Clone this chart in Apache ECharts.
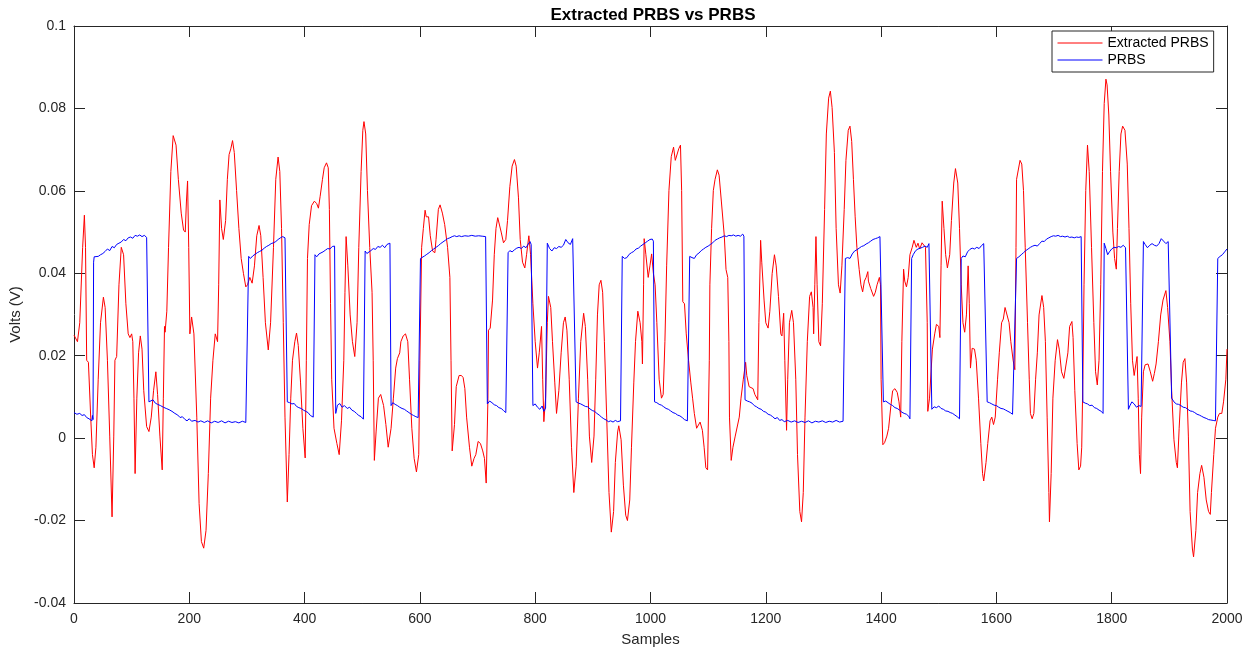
<!DOCTYPE html>
<html>
<head>
<meta charset="utf-8">
<script src="https://cdn.jsdelivr.net/npm/echarts@6/dist/echarts.min.js"></script>
<style>
html,body{margin:0;padding:0;background:#fff;}
#chart{width:1256px;height:654px;}
</style>
</head>
<body>
<div id="chart"></div>
<script>
const chartTitle = 'Extracted PRBS vs PRBS';
const seriesNames = ['Extracted PRBS', 'PRBS'];
const xAxisName = 'Samples';
const yAxisName = 'Volts (V)';

// [sample, volts]
const extractedPrbs = [[0,0.0250],[1,0.0248],[6,0.0234],[10,0.0280],[15,0.0463],[18,0.0541],[20,0.0463],[22,0.0189],[25,0.0184],[29,0.0051],[32,-0.0040],[35,-0.0072],[38,-0.0022],[42,0.0143],[46,0.0280],[51,0.0342],[54,0.0317],[58,0.0189],[62,0.0005],[66,-0.0191],[69,0.0005],[71,0.0189],[74,0.0198],[78,0.0372],[82,0.0463],[86,0.0445],[90,0.0326],[94,0.0253],[97,0.0244],[100,0.0253],[102,0.0234],[104,0.0097],[106,-0.0086],[109,0.0097],[112,0.0207],[115,0.0248],[118,0.0216],[121,0.0115],[126,0.0028],[130,0.0016],[134,0.0051],[138,0.0115],[142,0.0161],[145,0.0106],[149,0.0005],[153,-0.0077],[155,0.0097],[157,0.0271],[158,0.0257],[161,0.0308],[164,0.0463],[168,0.0647],[172,0.0734],[177,0.0711],[181,0.0628],[186,0.0546],[190,0.0505],[193,0.0500],[195,0.0573],[197,0.0624],[199,0.0463],[201,0.0253],[204,0.0294],[208,0.0253],[213,0.0051],[217,-0.0159],[221,-0.0251],[225,-0.0267],[229,-0.0224],[233,-0.0086],[237,0.0097],[241,0.0189],[245,0.0253],[248,0.0257],[249,0.0234],[251,0.0372],[253,0.0578],[256,0.0509],[259,0.0482],[263,0.0528],[266,0.0628],[269,0.0688],[272,0.0702],[275,0.0722],[278,0.0693],[282,0.0601],[286,0.0509],[290,0.0436],[294,0.0399],[298,0.0367],[301,0.0372],[305,0.0390],[309,0.0376],[313,0.0418],[317,0.0491],[321,0.0516],[324,0.0491],[328,0.0390],[332,0.0280],[337,0.0214],[341,0.0280],[346,0.0463],[350,0.0628],[354,0.0682],[357,0.0647],[360,0.0509],[363,0.0280],[366,0.0051],[370,-0.0155],[373,-0.0040],[376,0.0097],[379,0.0189],[383,0.0234],[386,0.0255],[389,0.0225],[393,0.0134],[397,0.0024],[401,-0.0048],[403,0.0189],[405,0.0436],[408,0.0518],[412,0.0564],[417,0.0575],[421,0.0569],[424,0.0558],[427,0.0587],[431,0.0628],[434,0.0656],[438,0.0668],[441,0.0656],[443,0.0555],[445,0.0326],[447,0.0143],[451,0.0024],[456,-0.0013],[460,-0.0040],[464,0.0042],[468,0.0189],[470,0.0354],[472,0.0489],[475,0.0418],[479,0.0299],[483,0.0234],[487,0.0198],[491,0.0280],[494,0.0463],[498,0.0647],[501,0.0747],[503,0.0768],[506,0.0738],[509,0.0601],[513,0.0463],[517,0.0354],[519,0.0189],[521,-0.0054],[524,0.0015],[528,0.0097],[532,0.0106],[537,0.0079],[541,0.0033],[545,-0.0022],[550,0.0024],[554,0.0097],[558,0.0170],[561,0.0193],[565,0.0207],[567,0.0234],[571,0.0248],[575,0.0253],[579,0.0234],[582,0.0143],[586,0.0024],[590,-0.0049],[594,-0.0082],[598,-0.0040],[600,0.0189],[603,0.0463],[606,0.0509],[609,0.0553],[611,0.0537],[615,0.0537],[618,0.0491],[622,0.0454],[626,0.0450],[628,0.0482],[632,0.0555],[635,0.0566],[639,0.0546],[643,0.0518],[648,0.0463],[652,0.0390],[654,0.0189],[656,-0.0031],[660,0.0033],[663,0.0125],[668,0.0152],[672,0.0152],[675,0.0147],[678,0.0120],[681,0.0051],[686,-0.0022],[690,-0.0068],[694,-0.0049],[697,-0.0040],[701,-0.0008],[705,-0.0013],[709,-0.0031],[712,-0.0049],[715,-0.0109],[718,0.0097],[719,0.0262],[722,0.0267],[726,0.0335],[729,0.0445],[732,0.0509],[735,0.0535],[738,0.0532],[741,0.0500],[745,0.0474],[749,0.0482],[752,0.0528],[756,0.0610],[760,0.0660],[764,0.0676],[767,0.0660],[771,0.0583],[774,0.0482],[778,0.0427],[782,0.0413],[785,0.0445],[789,0.0491],[792,0.0445],[796,0.0326],[800,0.0234],[804,0.0170],[807,0.0207],[811,0.0271],[813,0.0143],[815,0.0040],[818,0.0097],[821,0.0280],[823,0.0344],[827,0.0317],[830,0.0234],[834,0.0134],[837,0.0060],[841,0.0115],[845,0.0207],[849,0.0280],[852,0.0294],[855,0.0262],[859,0.0143],[863,-0.0022],[867,-0.0132],[871,-0.0068],[875,0.0097],[879,0.0234],[884,0.0303],[887,0.0271],[891,0.0143],[894,0.0005],[898,-0.0059],[902,0.0005],[905,0.0143],[908,0.0299],[911,0.0372],[914,0.0383],[917,0.0354],[920,0.0234],[924,0.0051],[928,-0.0132],[932,-0.0228],[936,-0.0178],[939,-0.0059],[943,0.0015],[945,0.0030],[949,-0.0004],[953,-0.0114],[957,-0.0187],[960,-0.0200],[964,-0.0150],[967,-0.0022],[971,0.0134],[974,0.0234],[978,0.0308],[982,0.0280],[985,0.0234],[986,0.0180],[988,0.0372],[989,0.0484],[992,0.0445],[996,0.0390],[999,0.0418],[1002,0.0447],[1005,0.0400],[1008,0.0372],[1011,0.0280],[1015,0.0143],[1019,0.0097],[1022,0.0106],[1025,0.0234],[1028,0.0418],[1032,0.0601],[1036,0.0683],[1040,0.0706],[1043,0.0674],[1046,0.0678],[1049,0.0702],[1052,0.0711],[1054,0.0601],[1056,0.0331],[1059,0.0326],[1062,0.0253],[1066,0.0189],[1070,0.0134],[1073,0.0097],[1076,0.0060],[1080,0.0024],[1083,0.0028],[1086,0.0039],[1090,0.0019],[1093,-0.0022],[1096,-0.0072],[1099,-0.0077],[1102,0.0189],[1103,0.0372],[1106,0.0509],[1109,0.0601],[1112,0.0628],[1116,0.0651],[1119,0.0638],[1123,0.0573],[1128,0.0491],[1131,0.0409],[1134,0.0390],[1136,0.0234],[1137,0.0051],[1140,-0.0054],[1143,-0.0022],[1147,0.0005],[1150,0.0001],[1154,0.0051],[1157,0.0097],[1161,0.0143],[1165,0.0184],[1167,0.0152],[1171,0.0125],[1174,0.0129],[1178,0.0120],[1181,0.0106],[1186,0.0093],[1188,0.0280],[1191,0.0480],[1193,0.0427],[1197,0.0335],[1200,0.0280],[1204,0.0267],[1207,0.0308],[1211,0.0399],[1215,0.0445],[1218,0.0418],[1222,0.0344],[1226,0.0253],[1228,0.0248],[1231,0.0303],[1233,0.0189],[1236,0.0019],[1238,0.0143],[1241,0.0280],[1245,0.0310],[1248,0.0280],[1252,0.0143],[1255,-0.0040],[1259,-0.0178],[1262,-0.0203],[1265,-0.0132],[1268,0.0051],[1272,0.0234],[1276,0.0344],[1279,0.0355],[1282,0.0317],[1283,0.0253],[1285,0.0372],[1287,0.0489],[1289,0.0372],[1292,0.0234],[1295,0.0224],[1298,0.0326],[1302,0.0555],[1305,0.0738],[1309,0.0825],[1312,0.0842],[1315,0.0802],[1319,0.0693],[1322,0.0509],[1326,0.0372],[1329,0.0352],[1332,0.0418],[1336,0.0555],[1339,0.0674],[1343,0.0747],[1346,0.0757],[1349,0.0720],[1352,0.0628],[1355,0.0537],[1358,0.0463],[1362,0.0409],[1365,0.0372],[1368,0.0355],[1371,0.0381],[1374,0.0390],[1377,0.0404],[1378,0.0381],[1382,0.0363],[1387,0.0344],[1390,0.0354],[1393,0.0372],[1397,0.0390],[1399,0.0372],[1400,0.0143],[1403,-0.0016],[1406,-0.0011],[1410,0.0005],[1413,0.0024],[1417,0.0079],[1420,0.0115],[1424,0.0120],[1428,0.0111],[1431,0.0088],[1434,0.0051],[1436,0.0234],[1439,0.0410],[1441,0.0381],[1444,0.0367],[1447,0.0390],[1450,0.0445],[1454,0.0463],[1457,0.0480],[1461,0.0463],[1464,0.0473],[1467,0.0459],[1471,0.0474],[1474,0.0471],[1477,0.0463],[1480,0.0280],[1481,0.0065],[1484,0.0097],[1487,0.0170],[1489,0.0216],[1493,0.0253],[1496,0.0276],[1500,0.0271],[1502,0.0244],[1504,0.0418],[1506,0.0575],[1509,0.0509],[1512,0.0445],[1515,0.0413],[1519,0.0445],[1522,0.0528],[1526,0.0619],[1529,0.0654],[1533,0.0619],[1536,0.0509],[1539,0.0372],[1542,0.0280],[1545,0.0257],[1548,0.0299],[1551,0.0418],[1553,0.0326],[1555,0.0170],[1558,0.0218],[1562,0.0216],[1565,0.0189],[1569,0.0097],[1573,-0.0013],[1576,-0.0086],[1578,-0.0104],[1582,-0.0059],[1585,-0.0013],[1589,0.0042],[1592,0.0051],[1595,0.0033],[1598,0.0051],[1602,0.0143],[1605,0.0207],[1609,0.0280],[1612,0.0289],[1615,0.0317],[1618,0.0320],[1622,0.0280],[1625,0.0234],[1629,0.0189],[1632,0.0166],[1634,0.0463],[1635,0.0628],[1637,0.0630],[1641,0.0674],[1644,0.0665],[1647,0.0601],[1650,0.0463],[1654,0.0280],[1657,0.0143],[1659,0.0060],[1662,0.0047],[1665,0.0060],[1668,0.0143],[1671,0.0207],[1674,0.0299],[1679,0.0346],[1682,0.0317],[1685,0.0234],[1688,0.0051],[1691,-0.0132],[1692,-0.0203],[1695,-0.0086],[1698,0.0097],[1702,0.0189],[1706,0.0239],[1709,0.0216],[1713,0.0161],[1717,0.0145],[1720,0.0147],[1724,0.0207],[1727,0.0271],[1731,0.0283],[1733,0.0244],[1736,0.0115],[1740,-0.0013],[1743,-0.0077],[1746,-0.0068],[1748,-0.0022],[1750,0.0143],[1752,0.0372],[1755,0.0601],[1758,0.0711],[1761,0.0647],[1765,0.0463],[1769,0.0280],[1772,0.0161],[1775,0.0129],[1778,0.0189],[1781,0.0372],[1784,0.0647],[1787,0.0812],[1790,0.0871],[1792,0.0857],[1795,0.0784],[1798,0.0647],[1802,0.0500],[1805,0.0436],[1808,0.0410],[1810,0.0509],[1813,0.0647],[1816,0.0738],[1819,0.0757],[1823,0.0747],[1827,0.0665],[1830,0.0509],[1833,0.0326],[1836,0.0189],[1839,0.0152],[1842,0.0180],[1844,0.0198],[1846,0.0097],[1848,-0.0040],[1850,-0.0086],[1852,0.0051],[1855,0.0161],[1858,0.0178],[1863,0.0180],[1867,0.0161],[1871,0.0138],[1874,0.0157],[1877,0.0180],[1881,0.0234],[1885,0.0299],[1889,0.0335],[1894,0.0358],[1897,0.0317],[1901,0.0234],[1904,0.0115],[1908,-0.0004],[1912,-0.0059],[1914,-0.0072],[1917,0.0024],[1921,0.0134],[1924,0.0184],[1927,0.0193],[1930,0.0134],[1933,0.0005],[1936,-0.0178],[1940,-0.0269],[1942,-0.0288],[1946,-0.0224],[1949,-0.0132],[1953,-0.0086],[1956,-0.0066],[1960,-0.0095],[1964,-0.0150],[1968,-0.0178],[1971,-0.0185],[1973,-0.0132],[1977,-0.0040],[1980,0.0024],[1984,0.0051],[1987,0.0060],[1991,0.0060],[1994,0.0088],[1998,0.0143],[2000,0.0216]];

// [sample, volts]
const prbs = [[0,0.0062],[5,0.0058],[10,0.0060],[14,0.0055],[18,0.0057],[22,0.0050],[26,0.0047],[29,0.0049],[31,0.0042],[32,0.0055],[33,0.0045],
[34,0.0427],[35,0.0440],[37,0.0436],[42,0.0441],[46,0.0445],[50,0.0448],[54,0.0453],[58,0.0459],[62,0.0455],[66,0.0465],[70,0.0462],[74,0.0470],[78,0.0473],[82,0.0476],[86,0.0482],[90,0.0479],[94,0.0486],[98,0.0488],[102,0.0485],[106,0.0492],[110,0.0490],[114,0.0493],[118,0.0489],[122,0.0492],[126,0.0487],[128,0.0486],
[130,0.0088],[133,0.0090],[137,0.0093],[141,0.0085],[145,0.0082],[150,0.0079],[155,0.0075],[160,0.0072],[165,0.0069],[170,0.0065],[175,0.0060],[180,0.0056],[184,0.0050],[188,0.0052],[192,0.0046],[196,0.0042],[200,0.0047],[204,0.0041],[210,0.0043],[215,0.0039],[220,0.0042],[226,0.0038],[232,0.0042],[238,0.0037],[244,0.0041],[250,0.0038],[256,0.0042],[262,0.0037],[268,0.0041],[274,0.0038],[280,0.0040],[286,0.0037],[292,0.0041],[298,0.0038],[301,0.0039],
[303,0.0441],[306,0.0436],[310,0.0442],[314,0.0446],[318,0.0450],[322,0.0453],[326,0.0456],[330,0.0461],[334,0.0465],[338,0.0468],[342,0.0472],[346,0.0474],[350,0.0477],[354,0.0482],[358,0.0486],[362,0.0489],[366,0.0486],[368,0.0486],
[370,0.0088],[374,0.0086],[378,0.0083],[382,0.0084],[386,0.0077],[390,0.0074],[394,0.0072],[398,0.0068],[402,0.0065],[406,0.0062],[410,0.0055],[413,0.0058],[415,0.0051],
[418,0.0445],[421,0.0440],[425,0.0447],[428,0.0443],[432,0.0452],[436,0.0456],[440,0.0460],[444,0.0459],[448,0.0465],[452,0.0466],
[454,0.0060],[457,0.0080],[461,0.0084],[465,0.0075],[469,0.0079],[474,0.0072],[478,0.0075],[482,0.0068],[486,0.0065],[490,0.0060],[494,0.0055],[498,0.0052],[502,0.0046],
[505,0.0454],[508,0.0448],[511,0.0445],[515,0.0455],[519,0.0460],[523,0.0458],[527,0.0465],[531,0.0463],[535,0.0468],[539,0.0462],[543,0.0470],[546,0.0466],[548,0.0473],
[550,0.0079],[553,0.0086],[557,0.0082],[561,0.0079],[565,0.0075],[569,0.0072],[573,0.0070],[577,0.0066],[581,0.0062],[585,0.0058],[589,0.0055],[593,0.0052],[597,0.0050],[598,0.0051],
[601,0.0436],[604,0.0440],[608,0.0442],[612,0.0446],[616,0.0450],[620,0.0455],[624,0.0459],[628,0.0463],[632,0.0467],[636,0.0472],[640,0.0476],[644,0.0480],[648,0.0484],[652,0.0486],[656,0.0489],[660,0.0491],[664,0.0489],[668,0.0491],[672,0.0489],[678,0.0491],[684,0.0490],[690,0.0492],[696,0.0490],[702,0.0491],[708,0.0490],[714,0.0489],
[717,0.0083],[721,0.0090],[725,0.0086],[729,0.0081],[733,0.0079],[737,0.0074],[741,0.0072],[745,0.0067],[749,0.0062],[751,0.0060],
[753,0.0450],[756,0.0455],[760,0.0452],[764,0.0457],[768,0.0461],[772,0.0463],[776,0.0460],[780,0.0466],[784,0.0462],[788,0.0471],[791,0.0477],[793,0.0470],
[796,0.0079],[800,0.0083],[804,0.0075],[808,0.0070],[812,0.0078],[815,0.0065],[818,0.0073],
[821,0.0473],[825,0.0460],[829,0.0454],[833,0.0462],[837,0.0460],[841,0.0465],[845,0.0463],[849,0.0468],[853,0.0482],[857,0.0474],[861,0.0470],[865,0.0484],[868,0.0480],
[871,0.0088],[875,0.0085],[879,0.0083],[883,0.0080],[887,0.0077],[891,0.0076],[895,0.0071],[899,0.0067],[903,0.0065],[907,0.0060],[911,0.0056],[915,0.0051],[919,0.0047],[923,0.0044],[927,0.0040],[931,0.0042],[935,0.0039],[939,0.0043],[943,0.0040],[948,0.0042],
[951,0.0441],[955,0.0436],[959,0.0438],[963,0.0446],[967,0.0450],[971,0.0453],[975,0.0459],[979,0.0461],[983,0.0466],[987,0.0470],[991,0.0474],[995,0.0478],[999,0.0482],[1003,0.0483],[1005,0.0478],
[1007,0.0088],[1011,0.0086],[1015,0.0082],[1019,0.0080],[1023,0.0076],[1027,0.0072],[1031,0.0070],[1035,0.0066],[1039,0.0062],[1043,0.0060],[1047,0.0056],[1051,0.0054],[1055,0.0050],[1059,0.0045],[1064,0.0042],
[1068,0.0441],[1072,0.0438],[1076,0.0436],[1080,0.0445],[1084,0.0449],[1088,0.0455],[1092,0.0459],[1096,0.0463],[1100,0.0466],[1104,0.0470],[1108,0.0474],[1112,0.0480],[1116,0.0483],[1120,0.0486],[1124,0.0488],[1128,0.0491],[1132,0.0489],[1136,0.0492],[1140,0.0491],[1144,0.0493],[1148,0.0490],[1152,0.0492],[1156,0.0490],[1160,0.0495],[1162,0.0490],
[1164,0.0093],[1168,0.0090],[1172,0.0088],[1176,0.0085],[1180,0.0079],[1184,0.0076],[1188,0.0072],[1192,0.0070],[1196,0.0065],[1200,0.0063],[1204,0.0058],[1208,0.0056],[1212,0.0052],[1216,0.0047],[1220,0.0050],[1224,0.0043],[1228,0.0045],[1232,0.0040],[1238,0.0043],[1244,0.0039],[1250,0.0042],[1256,0.0038],[1262,0.0041],[1268,0.0038],[1274,0.0042],[1280,0.0037],[1286,0.0041],[1292,0.0039],[1298,0.0042],[1304,0.0038],[1310,0.0041],[1316,0.0039],[1322,0.0043],[1328,0.0039],[1334,0.0041],[1336,0.0039],
[1338,0.0436],[1342,0.0438],[1346,0.0436],[1350,0.0447],[1354,0.0454],[1358,0.0457],[1362,0.0461],[1366,0.0465],[1370,0.0467],[1374,0.0471],[1378,0.0474],[1382,0.0478],[1386,0.0482],[1390,0.0484],[1394,0.0486],[1398,0.0489],[1401,0.0488],
[1404,0.0088],[1408,0.0090],[1412,0.0086],[1416,0.0082],[1420,0.0079],[1424,0.0074],[1428,0.0072],[1432,0.0068],[1436,0.0063],[1440,0.0060],[1444,0.0058],[1448,0.0053],[1450,0.0047],
[1453,0.0436],[1456,0.0446],[1460,0.0455],[1464,0.0459],[1468,0.0461],[1472,0.0463],[1476,0.0466],[1480,0.0463],[1483,0.0472],[1485,0.0473],
[1488,0.0070],[1492,0.0076],[1496,0.0074],[1500,0.0078],[1504,0.0072],[1508,0.0070],[1512,0.0066],[1516,0.0065],[1520,0.0062],[1524,0.0060],[1528,0.0056],[1532,0.0052],[1536,0.0047],
[1539,0.0436],[1542,0.0442],[1546,0.0440],[1550,0.0452],[1554,0.0458],[1558,0.0461],[1562,0.0459],[1566,0.0463],[1570,0.0460],[1574,0.0467],[1578,0.0472],[1580,0.0468],
[1584,0.0088],[1588,0.0086],[1592,0.0083],[1596,0.0080],[1600,0.0079],[1604,0.0075],[1608,0.0072],[1612,0.0071],[1616,0.0068],[1620,0.0065],[1624,0.0062],[1628,0.0058],[1631,0.0055],
[1635,0.0436],[1639,0.0440],[1643,0.0445],[1647,0.0450],[1651,0.0455],[1655,0.0459],[1659,0.0463],[1663,0.0466],[1667,0.0468],[1671,0.0466],[1675,0.0472],[1679,0.0478],[1683,0.0477],[1687,0.0483],[1691,0.0486],[1695,0.0489],[1699,0.0491],[1703,0.0490],[1707,0.0492],[1711,0.0489],[1715,0.0490],[1719,0.0488],[1723,0.0490],[1727,0.0487],[1731,0.0488],[1735,0.0486],[1739,0.0488],[1743,0.0487],[1747,0.0489],
[1750,0.0088],[1754,0.0085],[1758,0.0083],[1762,0.0079],[1766,0.0080],[1770,0.0074],[1774,0.0072],[1778,0.0068],[1782,0.0065],[1785,0.0060],
[1787,0.0473],[1790,0.0460],[1793,0.0445],[1796,0.0452],[1800,0.0459],[1804,0.0463],[1808,0.0462],[1812,0.0465],[1816,0.0463],[1820,0.0468],[1824,0.0462],[1826,0.0459],
[1829,0.0070],[1832,0.0080],[1835,0.0088],[1839,0.0083],[1843,0.0075],[1847,0.0079],[1851,0.0077],[1853,0.0079],
[1855,0.0477],[1858,0.0470],[1862,0.0462],[1866,0.0468],[1870,0.0472],[1874,0.0468],[1878,0.0466],[1882,0.0472],[1886,0.0484],[1890,0.0478],[1894,0.0472],[1898,0.0477],[1901,0.0474],
[1904,0.0097],[1908,0.0088],[1912,0.0083],[1916,0.0082],[1920,0.0079],[1924,0.0075],[1928,0.0074],[1932,0.0070],[1936,0.0066],[1940,0.0065],[1944,0.0062],[1948,0.0058],[1952,0.0056],[1956,0.0053],[1960,0.0050],[1964,0.0048],[1968,0.0045],[1972,0.0044],[1976,0.0043],[1980,0.0042],[1982,0.0040],
[1984,0.0436],[1988,0.0441],[1992,0.0445],[1996,0.0452],[2000,0.0459]];

const xMin = 0, xMax = 2000, xStep = 200;
const yMin = -0.04, yMax = 0.1, yStep = 0.02;

const FONT = "'Liberation Sans', Arial, Helvetica, sans-serif";
const AX = '#262626';

const chart = echarts.init(document.getElementById('chart'), null, {renderer: 'canvas'});

function fmtY(v) { return String(parseFloat(v.toFixed(4))); }
function fmtX(v) { return String(Math.round(v)); }

const baseX = {
  type: 'value', min: xMin, max: xMax, interval: xStep,
  axisLine: {show: true, onZero: false, lineStyle: {color: AX, width: 1}},
  axisTick: {show: true, inside: true, length: 11, lineStyle: {color: AX}},
  splitLine: {show: false}
};
const baseY = {
  type: 'value', min: yMin, max: yMax, interval: yStep,
  axisLine: {show: true, onZero: false, lineStyle: {color: AX, width: 1}},
  axisTick: {show: true, inside: true, length: 11, lineStyle: {color: AX}},
  splitLine: {show: false}
};

chart.setOption({
  animation: false,
  backgroundColor: '#ffffff',
  title: {
    text: chartTitle,
    left: 648, top: 2, textAlign: 'center',
    textStyle: {fontFamily: FONT, fontSize: 17, fontWeight: 'bold', color: '#000'}
  },
  legend: {
    orient: 'vertical',
    left: 1052, top: 31,
    padding: [5, 5, 5, 5],
    itemGap: 3,
    itemWidth: 45, itemHeight: 14,
    backgroundColor: '#fff',
    borderColor: AX, borderWidth: 1,
    itemStyle: {opacity: 0},
    lineStyle: {width: 1},
    textStyle: {fontFamily: FONT, fontSize: 14, color: '#000', padding: [0, 0, 0, 0]},
    data: seriesNames
  },
  grid: {left: 74, right: 29, top: 26, bottom: 51, containLabel: false},
  xAxis: [
    Object.assign({}, baseX, {
      position: 'bottom',
      name: xAxisName, nameLocation: 'middle', nameGap: 29,
      nameTextStyle: {fontFamily: FONT, fontSize: 15, color: AX},
      axisLabel: {show: true, margin: 9, fontFamily: FONT, fontSize: 14, color: AX, formatter: fmtX}
    }),
    Object.assign({}, baseX, {position: 'top', axisLabel: {show: false}})
  ],
  yAxis: [
    Object.assign({}, baseY, {
      position: 'left',
      name: yAxisName, nameLocation: 'middle', nameGap: 45, nameRotate: 90,
      nameTextStyle: {fontFamily: FONT, fontSize: 15, color: AX},
      axisLabel: {show: true, margin: 8, fontFamily: FONT, fontSize: 14, color: AX, formatter: fmtY}
    }),
    Object.assign({}, baseY, {position: 'right', axisLabel: {show: false}})
  ],
  series: [
    {
      name: seriesNames[0], type: 'line', data: extractedPrbs,
      xAxisIndex: 0, yAxisIndex: 0,
      symbol: 'none', smooth: false, clip: true,
      lineStyle: {color: '#ff0000', width: 1},
      itemStyle: {color: '#ff0000'}
    },
    {
      name: seriesNames[1], type: 'line', data: prbs,
      xAxisIndex: 0, yAxisIndex: 0,
      symbol: 'none', smooth: false, clip: true,
      lineStyle: {color: '#0000ff', width: 1},
      itemStyle: {color: '#0000ff'}
    }
  ]
});
</script>
</body>
</html>
